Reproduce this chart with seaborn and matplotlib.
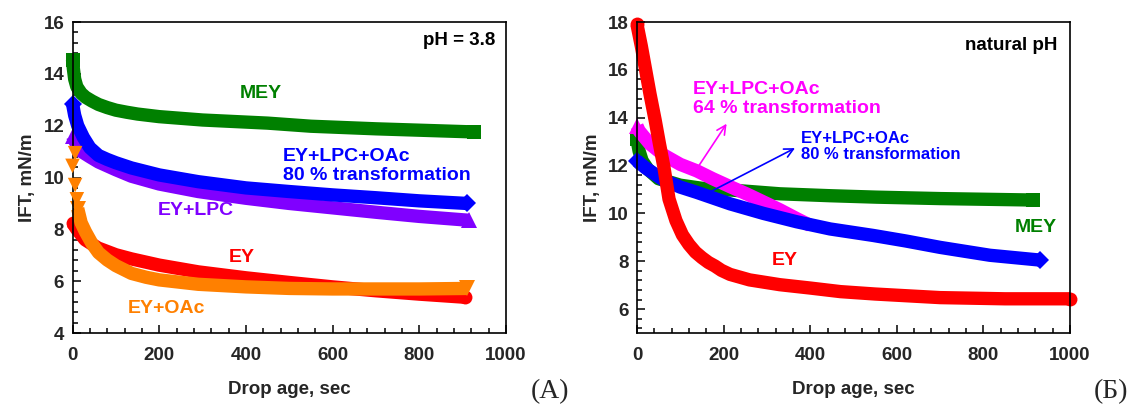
import matplotlib
matplotlib.use("Agg")
import matplotlib.pyplot as plt
from matplotlib.ticker import MultipleLocator
import seaborn as sns

# ---------------- panel (A): pH = 3.8 ----------------
a_mey_t = [0, 2, 5, 10, 20, 30, 45, 60, 80, 100, 125, 150, 200, 300, 450, 550, 700, 926]
a_mey_v = [14.55, 14.2, 13.8, 13.5, 13.25, 13.1, 12.95, 12.82, 12.7, 12.6, 12.52, 12.45, 12.35, 12.22, 12.1, 11.98, 11.88, 11.76]

a_lpc_oac_t = [0, 5, 12, 25, 40, 60, 80, 100, 136, 200, 290, 400, 500, 600, 700, 800, 910]
a_lpc_oac_v = [12.85, 12.4, 12.0, 11.55, 11.15, 10.85, 10.7, 10.57, 10.37, 10.1, 9.84, 9.6, 9.46, 9.33, 9.22, 9.1, 9.0]

a_lpc_t = [0, 10, 21, 40, 60, 100, 136, 200, 290, 400, 500, 600, 700, 800, 915]
a_lpc_v = [11.6, 11.25, 11.0, 10.8, 10.6, 10.3, 10.05, 9.75, 9.46, 9.2, 9.0, 8.83, 8.66, 8.5, 8.35]

a_ey_t = [0, 10, 29, 59, 100, 136, 200, 290, 400, 500, 600, 700, 800, 905]
a_ey_v = [8.25, 8.0, 7.6, 7.28, 7.02, 6.86, 6.62, 6.36, 6.13, 5.95, 5.78, 5.63, 5.5, 5.38]

a_oac_t = [12, 20, 30, 45, 60, 80, 100, 136, 170, 200, 290, 400, 500, 600, 700, 800, 910]
a_oac_v = [8.8, 8.25, 7.9, 7.45, 7.1, 6.82, 6.6, 6.3, 6.15, 6.05, 5.88, 5.78, 5.72, 5.7, 5.7, 5.7, 5.72]
a_oac_early_t = [6, 0, 6, 10]
a_oac_early_v = [10.94, 10.45, 9.71, 9.16]

# ---------------- panel (Б): natural pH ----------------
b_ey_t = [0, 10, 20, 30, 42, 52, 62, 74, 90, 105, 120, 135, 150, 165, 180, 195, 215, 260, 330, 400, 470, 550, 700, 850, 1000]
b_ey_v = [17.9, 17.0, 16.0, 15.0, 13.9, 12.9, 11.96, 10.6, 9.7, 9.1, 8.7, 8.38, 8.15, 7.95, 7.8, 7.62, 7.45, 7.22, 7.02, 6.88, 6.73, 6.63, 6.48, 6.43, 6.43]

b_mey_t = [0, 5, 12, 25, 50, 100, 150, 215, 330, 446, 553, 700, 915]
b_mey_v = [13.1, 12.6, 12.2, 11.85, 11.45, 11.18, 11.05, 10.98, 10.82, 10.74, 10.68, 10.62, 10.56]

b_oac64_t = [0, 5, 30, 61, 100, 138, 175, 215, 255, 292, 330, 369, 400]
b_oac64_v = [13.65, 13.45, 12.9, 12.45, 12.05, 11.78, 11.45, 11.12, 10.8, 10.48, 10.15, 9.78, 9.5]

b_oac80_t = [0, 20, 61, 100, 138, 215, 292, 369, 446, 545, 620, 700, 815, 930]
b_oac80_v = [12.2, 11.9, 11.4, 11.1, 10.88, 10.4, 10.0, 9.65, 9.35, 9.08, 8.85, 8.58, 8.25, 8.05]

GREEN = "#008000"
BLUE = "#0000ff"
PURPLE = "#8000ff"
RED = "#ff0000"
ORANGE = "#ff8000"
MAGENTA = "#ff00ff"

sns.set_style("ticks")
plt.rcParams["font.family"] = ["Liberation Sans", "DejaVu Sans"]
plt.rcParams["font.weight"] = "bold"
plt.rcParams["axes.labelweight"] = "bold"

FS = 13.5
LW = 9.6


def band(ax, t, v, color, marker, ms=10, ends=None):
    if ends is None:
        ends = [0, len(t) - 1]
    sns.lineplot(x=t, y=v, ax=ax, color=color, linewidth=LW, sort=False,
                 estimator=None, marker=marker, markersize=ms,
                 markevery=ends, markeredgewidth=0,
                 markerfacecolor=color, solid_joinstyle="round",
                 solid_capstyle="butt", clip_on=False)


def style_axes(ax, ylo, yhi):
    ax.set_xlim(0, 1000)
    ax.set_ylim(ylo, yhi)
    ax.xaxis.set_major_locator(MultipleLocator(200))
    ax.xaxis.set_minor_locator(MultipleLocator(40))
    ax.yaxis.set_major_locator(MultipleLocator(2))
    ax.yaxis.set_minor_locator(MultipleLocator(0.4))
    ax.tick_params(which="both", direction="in", top=False, right=False,
                   width=1.1, color="black", labelsize=FS)
    ax.tick_params(which="major", length=6)
    ax.tick_params(which="minor", length=3.5)
    ax.tick_params(axis="x", pad=10)
    ax.tick_params(axis="y", pad=6)
    for s in ax.spines.values():
        s.set_linewidth(1.2)
        s.set_color("black")
    for lab in ax.get_xticklabels() + ax.get_yticklabels():
        lab.set_fontweight("bold")
    ax.set_xlabel("Drop age, sec", fontsize=FS, fontweight="bold", labelpad=12)
    ax.set_ylabel("IFT, mN/m", fontsize=FS, fontweight="bold", labelpad=5)


fig = plt.figure(figsize=(11.33, 4.07), dpi=100)
axA = fig.add_axes([0.064, 0.1818, 0.3826, 0.764])
axB = fig.add_axes([0.5622, 0.1818, 0.3822, 0.764])

# panel A curves
band(axA, a_mey_t, a_mey_v, GREEN, "s")
band(axA, a_lpc_t, a_lpc_v, PURPLE, "^", 11)
band(axA, a_lpc_oac_t, a_lpc_oac_v, BLUE, "D", 9)
band(axA, a_ey_t, a_ey_v, RED, "o")
band(axA, a_oac_t, a_oac_v, ORANGE, "v", 11)
sns.scatterplot(x=a_oac_early_t, y=a_oac_early_v, ax=axA, color=ORANGE,
                marker="v", s=110, edgecolor="none", clip_on=False, zorder=3)

style_axes(axA, 4, 16)
axA.text(975, 15.3, "pH = 3.8", ha="right", va="center", fontsize=FS, color="black")
axA.text(435, 13.26, "MEY", ha="center", va="center", fontsize=14, color=GREEN)
axA.text(485, 10.44, "EY+LPC+OAc\n80 % transformation", ha="left", va="center",
         fontsize=14, color=BLUE, linespacing=1.1)
axA.text(285, 8.71, "EY+LPC", ha="center", va="center", fontsize=14, color=PURPLE)
axA.text(390, 6.93, "EY", ha="center", va="center", fontsize=14, color=RED)
axA.text(216, 4.96, "EY+OAc", ha="center", va="center", fontsize=14, color=ORANGE)

# panel Б curves
band(axB, b_mey_t, b_mey_v, GREEN, "s")
band(axB, b_oac64_t, b_oac64_v, MAGENTA, "^", 11, ends=[0])
band(axB, b_oac80_t, b_oac80_v, BLUE, "D", 9)
band(axB, b_ey_t, b_ey_v, RED, "o")

style_axes(axB, 5, 18)
axB.text(970, 17.04, "natural pH", ha="right", va="center", fontsize=FS, color="black")
axB.text(129, 14.78, "EY+LPC+OAc\n64 % transformation", ha="left", va="center",
         fontsize=14, color=MAGENTA, linespacing=1.1)
axB.text(379, 12.8, "EY+LPC+OAc\n80 % transformation", ha="left", va="center",
         fontsize=12, color=BLUE, linespacing=1.1)
axB.text(920, 9.43, "MEY", ha="center", va="center", fontsize=14, color=GREEN)
axB.text(342, 8.05, "EY", ha="center", va="center", fontsize=14, color=RED)
axB.annotate("", xy=(207, 13.75), xytext=(134, 11.75),
             arrowprops=dict(arrowstyle="->", color=MAGENTA, lw=1.2,
                             mutation_scale=16, shrinkA=0, shrinkB=0), zorder=5)
axB.annotate("", xy=(365, 12.73), xytext=(169, 10.9),
             arrowprops=dict(arrowstyle="->", color=BLUE, lw=1.2,
                             mutation_scale=16, shrinkA=0, shrinkB=0), zorder=5)

fig.text(550 / 1133, 1 - 392 / 407, "(A)", ha="center", va="center",
         fontsize=20, fontweight="normal", family="Liberation Serif")
fig.text(1111 / 1133, 1 - 392 / 407, "(Б)", ha="center", va="center",
         fontsize=20, fontweight="normal", family="Liberation Serif")

fig.savefig("out.png", dpi=100)
